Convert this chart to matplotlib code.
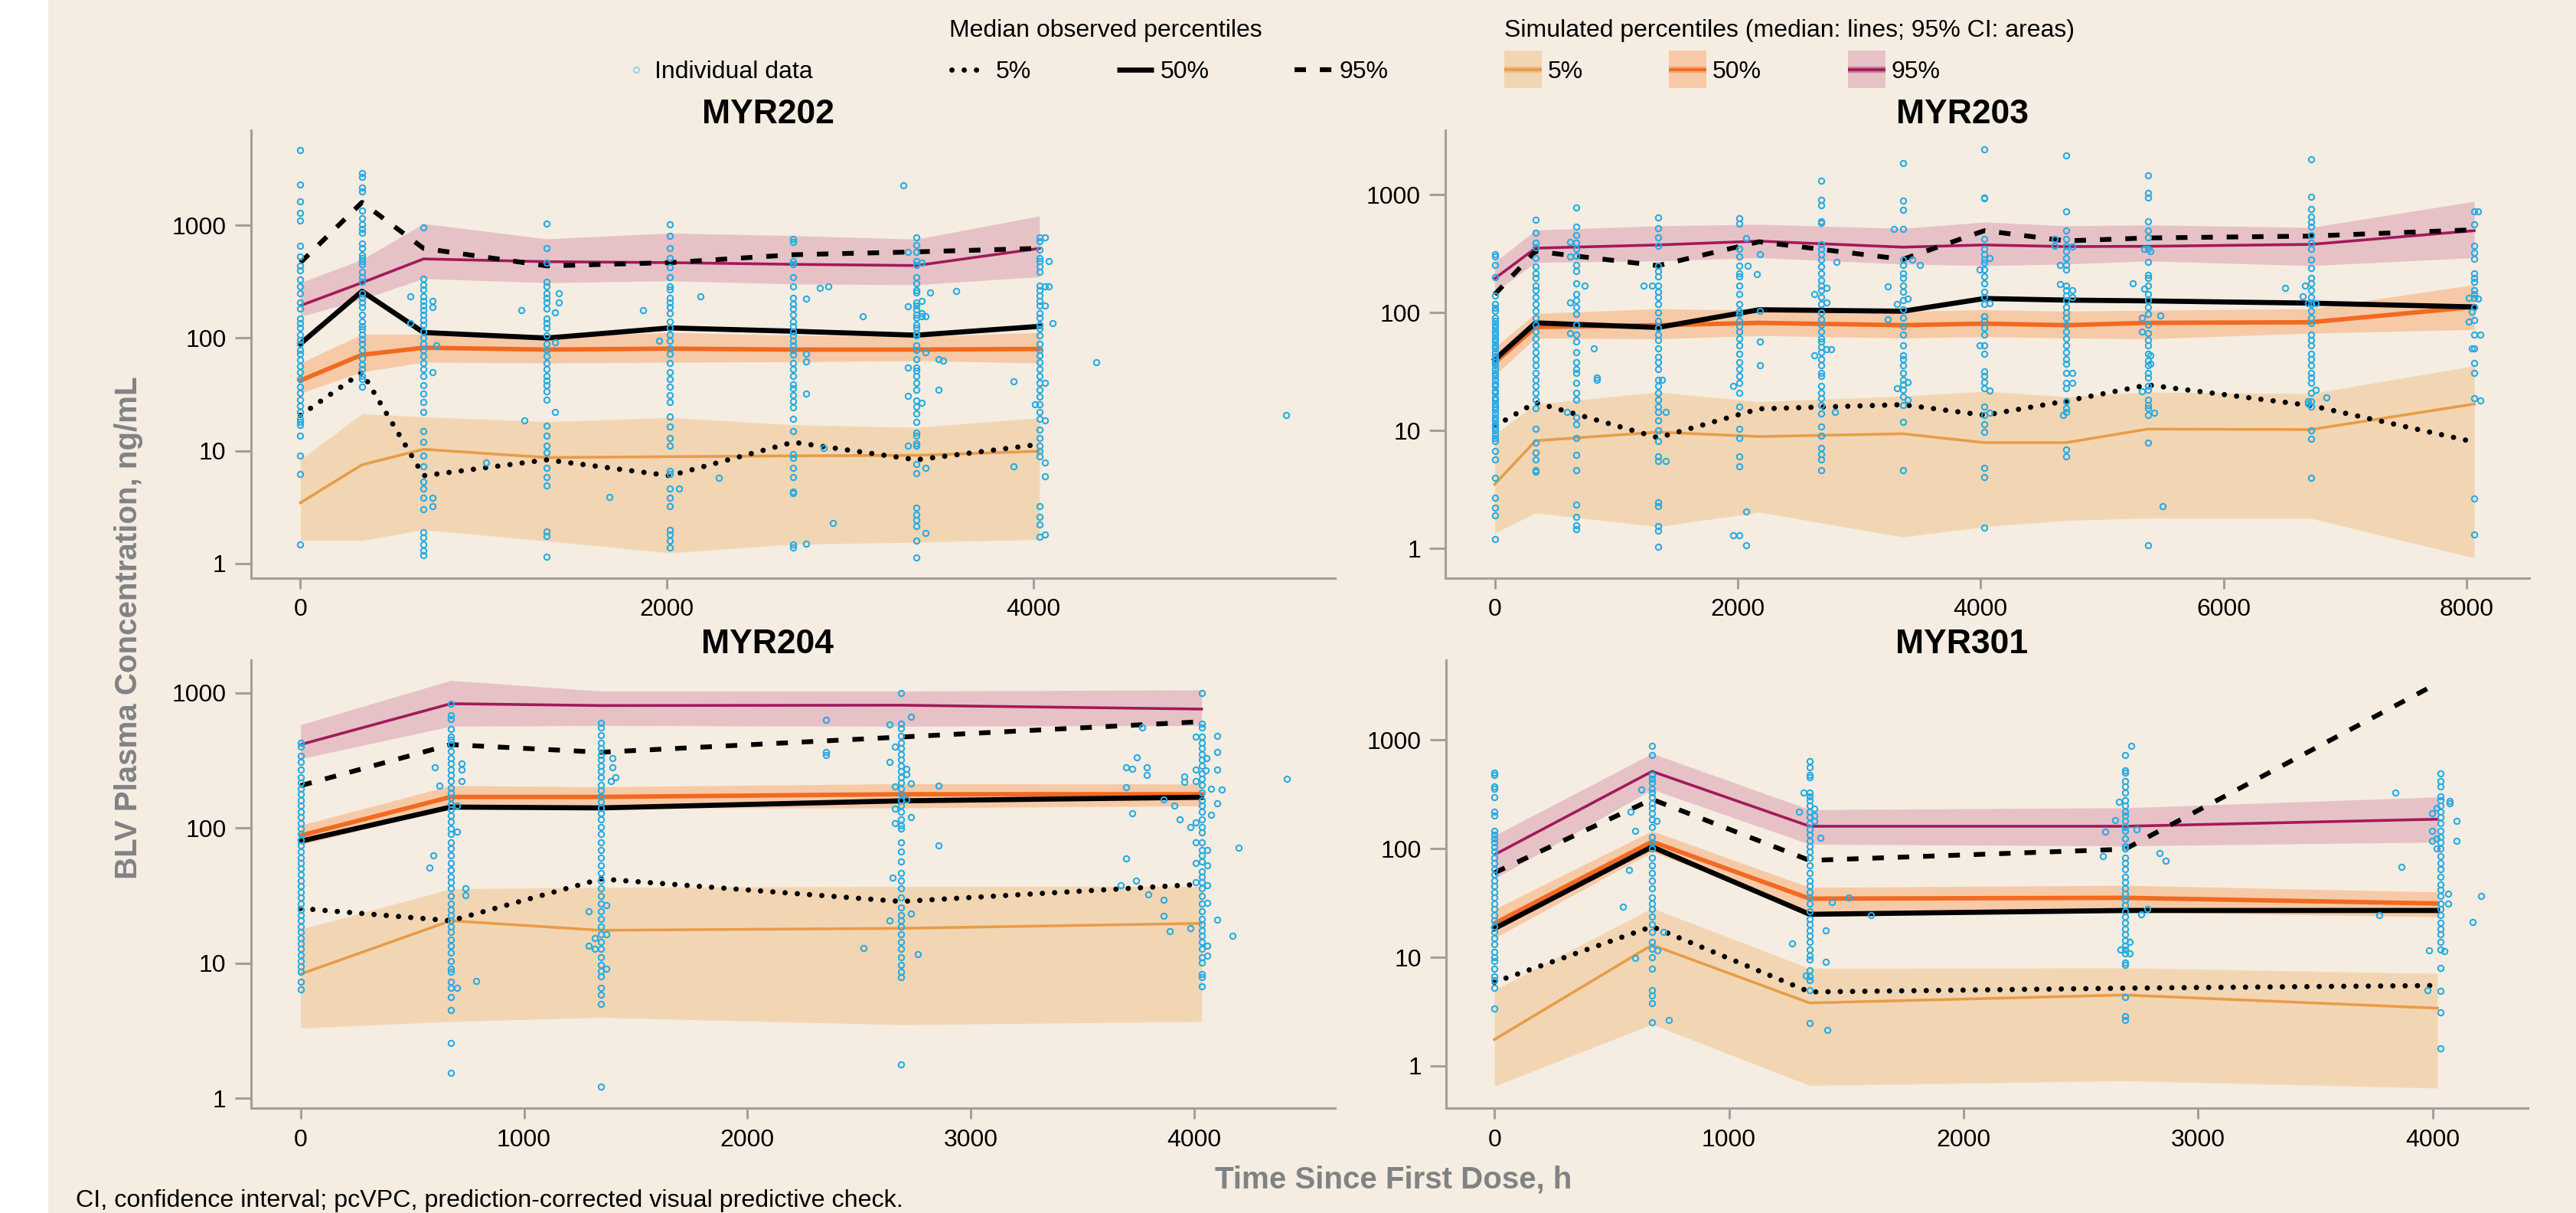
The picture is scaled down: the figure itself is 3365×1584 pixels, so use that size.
import numpy as np
import matplotlib
matplotlib.use("Agg")
import matplotlib.pyplot as plt
from matplotlib.ticker import FixedLocator, FixedFormatter, NullLocator
from matplotlib.patches import Rectangle

W, H = 3366, 1584
BG = "#F5EDE1"
SPINE = "#A0A0A0"
PT = "#29ABE2"
C05, C50, C95 = "#E89C48", "#F26A21", "#A3195B"
B05, B50, B95 = "#F2D6B4", "#F7CAA7", "#E6C2C6"
GREY = "#808285"

# ---------------- MYR202 ----------------
MYR202_nodes = [0, 336, 672, 1344, 2016, 2688, 3360, 4032]
MYR202_obs05 = [20.6, 49.6, 6.0, 8.3, 6.0, 11.9, 8.3, 11.4]
MYR202_obs50 = [89, 260, 112, 100, 123, 115, 106, 127]
MYR202_obs95 = [467, 1600, 625, 437, 467, 549, 582, 625]
MYR202_sim05 = [3.45, 7.5, 10.3, 8.7, 8.85, 9.0, 9.1, 9.9]
MYR202_sim05_lo = [1.6, 1.6, 1.99, 1.58, 1.24, 1.48, 1.54, 1.63]
MYR202_sim05_hi = [8.3, 21.3, 20, 18.1, 19.7, 17, 16.1, 19.6]
MYR202_sim50 = [42, 71, 82, 79, 80.5, 79, 79, 80]
MYR202_sim50_lo = [32.5, 50, 61, 60, 61, 61.5, 63, 60]
MYR202_sim50_hi = [60, 108, 108, 102.5, 112, 106, 103, 112]
MYR202_sim95 = [194, 310, 504, 476, 467, 451, 440, 625]
MYR202_sim95_lo = [155, 221, 337, 310, 322, 302, 297, 350]
MYR202_sim95_hi = [310, 498, 1037, 759, 854, 811, 754, 1213]
MYR202_times = [0, 336, 672, 1344, 2016, 2688, 3360, 4032]
MYR202_conc = [
    [4690, 2295, 1636, 1295, 1100, 658, 525, 437, 397, 330, 286, 248, 207, 182, 150, 136, 123, 108, 96, 89,
     78, 73, 64, 56, 50, 43.5, 37, 32.5, 28.5, 25, 22, 19.3, 18, 17, 13.5, 9.1, 6.2, 1.48],
    [2930, 2700, 2150, 1990, 1360, 1160, 1020, 922, 865, 689, 624, 548, 514, 482, 451, 384, 348, 315, 251, 228,
     207, 188, 160, 140, 127, 119, 108, 98, 89, 78, 66, 58, 53, 46, 43, 37],
    [953, 337, 296, 268, 236, 214, 194, 176, 160, 145, 131, 115, 101, 89, 78, 69, 60, 53, 46, 38, 32, 27, 22,
     14.9, 11.9, 9.1, 7.3, 5.3, 4.6, 3.8, 3.0, 1.9, 1.7, 1.48, 1.3, 1.18],
    [1040, 624, 466, 315, 286, 251, 228, 207, 182, 150, 136, 123, 105, 89, 78, 69, 60, 53, 46, 42, 38, 33.5,
     28.5, 16.6, 13.5, 11.1, 9.7, 7.0, 5.8, 4.9, 1.92, 1.74, 1.14],
    [1016, 809, 624, 514, 423, 348, 286, 268, 228, 207, 188, 165, 140, 123, 108, 95, 81, 73, 60, 50, 43, 37, 31,
     27, 20, 16.4, 13, 11.1, 6.6, 6.2, 4.6, 3.8, 3.2, 1.99, 1.8, 1.58, 1.39],
    [759, 711, 482, 451, 348, 286, 228, 200, 182, 160, 140, 127, 115, 105, 95, 86, 78, 71, 60, 53, 46, 39, 35.8,
     31, 27.6, 24.2, 19.3, 14.9, 9.4, 8.6, 7.0, 5.8, 4.3, 4.2, 1.48, 1.39],
    [780, 664, 578, 479, 446, 349, 304, 264, 255, 207, 193, 180, 162, 151, 131, 124, 110, 106, 86, 78, 65, 55,
     51, 46, 40, 35, 28, 24.5, 21.3, 17.9, 14.5, 13.5, 11.7, 11, 7.6, 6.3, 3.1, 2.7, 2.44, 2.15, 1.6, 1.13],
    [780, 728, 611, 513, 479, 431, 388, 293, 264, 238, 214, 193, 167, 151, 131, 122, 106, 89, 78, 70, 61, 53,
     46, 40, 35, 30, 26, 22, 19.2, 15.5, 13, 11, 9.9, 8.9, 3.2, 2.6, 2.2, 1.72],
]
MYR202_extra = [
    (598, 236), (598, 136), (719, 214), (719, 188), (719, 50), (719, 3.8), (719, 3.2), (741, 86),
    (1205, 176), (1412, 251), (1412, 207), (1389, 170), (1389, 92), (1389, 22), (1221, 18.7), (1684, 3.9), (1013, 7.8),
    (1868, 176), (2182, 236), (1955, 95), (2067, 4.6), (2284, 5.7),
    (2760, 222), (2760, 32), (2760, 62), (2760, 72), (2835, 279), (2882, 287), (3069, 155), (2856, 10.6),
    (2903, 2.27), (2760, 1.49), (3288, 2275), (3313, 578), (3313, 190), (3313, 55), (3313, 30.6), (3313, 11),
    (3388, 468), (3388, 214), (3388, 167), (3388, 157), (3388, 26.6), (3410, 157), (3410, 75), (3410, 7.0),
    (3410, 1.87), (3435, 255), (3481, 65), (3481, 35), (3505, 63), (3576, 260), (3889, 41), (3889, 7.3),
    (4060, 780), (4060, 287), (4060, 195), (4060, 40), (4060, 18.5), (4060, 7.8), (4060, 5.9), (4060, 1.8),
    (4082, 485), (4082, 287), (4105, 135), (4006, 26), (4343, 61), (5376, 20.6),
]

# ---------------- MYR203 ----------------
MYR203_nodes = [0, 336, 1344, 2177, 3360, 4032, 4704, 5376, 6720, 8064]
MYR203_obs05 = [10.9, 17.3, 8.7, 15.3, 16.6, 13.5, 17.8, 24.4, 16.3, 8.0]
MYR203_obs50 = [40, 82, 75, 106, 103, 132, 128, 126, 120.6, 112]
MYR203_obs95 = [143, 332, 251, 400, 284, 497, 407, 431, 447, 506]
MYR203_sim05 = [3.5, 8.2, 9.7, 8.9, 9.4, 7.9, 7.9, 10.3, 10.2, 16.8]
MYR203_sim05_lo = [1.35, 2.0, 1.53, 2.03, 1.25, 1.53, 1.73, 1.81, 1.8, 0.83]
MYR203_sim05_hi = [9.3, 16.8, 21.2, 17.6, 19.6, 21.5, 19.4, 21.2, 20.6, 35.4]
MYR203_sim50 = [37.7, 75.6, 78.4, 82, 78.4, 80.8, 78.4, 82, 83, 112]
MYR203_sim50_lo = [29.4, 61, 60, 64, 61, 62.7, 61, 60, 67, 72]
MYR203_sim50_hi = [51, 98.7, 108, 105, 103, 106, 103, 105, 108, 173]
MYR203_sim95 = [195, 353, 376, 405, 360, 376, 364, 366, 380, 497]
MYR203_sim95_lo = [150, 267, 275, 293, 259, 251, 259, 275, 251, 293]
MYR203_sim95_hi = [268, 503, 546, 563, 519, 588, 546, 556, 529, 881]
MYR203_times = [0, 336, 672, 1344, 2016, 2688, 3360, 4032, 4704, 5376, 6720, 8064]
MYR203_conc = [
    [313, 300, 256, 200, 140, 119, 110, 104, 91, 85, 79, 74, 69.5, 65, 60.8, 57, 53, 50, 46.5, 43, 40.6, 38,
     35.6, 33, 31, 29, 27, 25, 23.8, 22, 20.8, 19, 18.2, 17, 16, 15, 14, 13, 12.2, 11.4, 10.7, 10, 9.3, 8.7,
     8.2, 6.7, 5.7, 4.0, 2.7, 2.2, 1.9, 1.2],
    [618, 473, 395, 357, 292, 247, 216, 196, 171, 155, 136, 119, 104, 91, 79, 69.5, 60.8, 53, 46.5, 40.6, 35.6,
     31, 27, 23.8, 20.8, 18.2, 15.4, 10.3, 7.9, 6.5, 5.7, 4.6, 4.5],
    [781, 534, 458, 395, 346, 303, 256, 224, 177, 145, 127, 111, 97, 79, 65, 57, 46.5, 38, 33, 31, 25.5, 20.8,
     18.2, 13, 11.4, 8.7, 6.2, 4.6, 2.37, 1.85, 1.56, 1.45],
    [639, 523, 437, 370, 251, 224, 202, 171, 150, 136, 119, 100, 85, 74, 65, 58.8, 49.7, 42, 38, 33, 27, 23.8,
     20.8, 18.2, 16, 14.4, 12.2, 10, 8.2, 6.0, 5.5, 2.45, 2.3, 1.54, 1.41, 1.04],
    [631, 571, 346, 299, 251, 216, 202, 171, 145, 119, 104, 97, 85, 77, 69.5, 60.8, 53, 45, 38, 33, 29, 25.5,
     20.8, 16, 10.3, 8.7, 6.0, 5.0, 1.3],
    [1309, 912, 813, 598, 578, 382, 346, 313, 283, 247, 216, 189, 171, 155, 136, 119, 100, 88, 79, 69.5, 60.8,
     57, 51, 46.5, 40.6, 35.6, 31, 29, 23.8, 20.8, 18.8, 16.5, 14, 10.8, 9.0, 7.1, 6.3, 5.7, 4.6],
    [1864, 894, 751, 517, 283, 256, 216, 196, 171, 150, 127, 107, 91, 77, 65, 53, 43.4, 40.6, 35.6, 31, 27,
     24.6, 22.3, 19.5, 16.5, 11.8, 4.6],
    [2437, 942, 929, 423, 346, 313, 283, 264, 231, 202, 177, 150, 136, 119, 94, 85, 74, 65, 53, 45, 32, 29,
     25.8, 23, 16, 13.5, 11.4, 9.7, 4.85, 4.05, 1.5],
    [2173, 721, 499, 423, 370, 334, 292, 256, 234, 171, 155, 140, 127, 111, 100, 91, 79, 69.5, 60.8, 53, 46.5,
     40.6, 36.8, 31, 25.5, 23, 17.6, 15.4, 14.4, 6.9, 6.0],
    [1456, 1042, 942, 598, 499, 437, 346, 268, 209, 196, 171, 145, 127, 111, 97, 79, 67, 58.8, 53, 45, 39.4,
     35.6, 31, 28.2, 23.8, 22.3, 18.2, 16.5, 15.4, 13.6, 7.9, 1.06],
    [2004, 961, 761, 653, 590, 534, 458, 395, 346, 283, 239, 196, 177, 155, 136, 119, 104, 91, 82, 65, 58.8,
     53, 45, 40.6, 35.6, 31, 28.2, 25.5, 20.8, 17.6, 16, 10, 8.5, 4.0],
    [721, 560, 370, 323, 286, 216, 196, 183, 155, 145, 134, 111, 86, 65, 49.7, 37.5, 31, 18.8, 2.65, 1.32],
]
MYR203_extra = [
    (621, 400), (621, 300), (621, 122), (621, 67), (741, 171), (814, 49.7), (840, 28), (840, 27), (596, 14.4),
    (1223, 171), (1296, 171), (1411, 14.4), (1411, 5.5), (1375, 27),
    (2070, 428), (2070, 2.07), (2070, 1.06), (2182, 313), (2182, 103), (2182, 57), (2182, 36), (2158, 214),
    (2081, 251), (1962, 23.8), (1962, 1.3),
    (2813, 268), (2731, 163), (2731, 122), (2731, 49), (2634, 145), (2634, 43.4), (2768, 49), (2804, 14.4),
    (3287, 517), (3237, 166), (3237, 88), (3439, 283), (3499, 256), (3401, 131), (3401, 25.8), (3401, 18.2),
    (3314, 119), (3314, 23),
    (3990, 231), (3990, 53), (4077, 292), (4077, 120), (4077, 22), (4077, 14.1),
    (4610, 423), (4610, 370), (4652, 256), (4652, 174), (4755, 365), (4755, 155), (4755, 136), (4755, 31),
    (4755, 25.5), (4680, 13.6),
    (5253, 177), (5348, 346), (5348, 160), (5477, 95), (5398, 334), (5398, 43.4), (5398, 36.8), (5428, 14.1),
    (5329, 91), (5329, 69.5), (5329, 21.6), (5499, 2.27),
    (6508, 163), (6653, 138), (6697, 120), (6697, 17.8), (6697, 17), (6760, 120), (6760, 22.3), (6846, 19.1),
    (6672, 171),
    (8022, 134), (8022, 84), (8046, 102), (8046, 49.7), (8094, 721), (8094, 132), (8117, 65), (8117, 18),
]

# ---------------- MYR204 ----------------
MYR204_nodes = [0, 672, 1344, 2688, 4032]
MYR204_obs05 = [25.4, 20.6, 42, 28.6, 38.4]
MYR204_obs50 = [80, 143, 141, 159, 169]
MYR204_obs95 = [206, 415, 364, 472, 613]
MYR204_sim05 = [8.3, 20.6, 17.5, 18.1, 19.7]
MYR204_sim05_lo = [3.3, 3.7, 3.96, 3.5, 3.7]
MYR204_sim05_hi = [17.8, 35.5, 36.4, 37, 37]
MYR204_sim50 = [88, 170, 170, 178, 178]
MYR204_sim50_lo = [75, 141, 141, 141, 146]
MYR204_sim50_hi = [105, 206, 202, 213, 212]
MYR204_sim95 = [415, 833, 807, 812, 760]
MYR204_sim95_lo = [326, 567, 574, 567, 574]
MYR204_sim95_hi = [582, 1239, 1033, 1033, 1054]
MYR204_times = [0, 672, 1344, 2688, 4032]
MYR204_conc = [
    [428, 401, 341, 309, 272, 238, 216, 196, 178, 161, 146, 132, 120, 109, 99, 90, 81, 74, 67, 60.5, 55, 50, 45,
     41, 37, 33.7, 30.5, 27.7, 25, 22.8, 20.6, 18.7, 17, 15.4, 14, 12.7, 11.5, 10.4, 9.4, 8.6, 7.3, 6.4],
    [833, 685, 642, 538, 472, 451, 415, 371, 330, 299, 272, 246, 223, 198, 183, 166, 151, 137, 124, 112, 99, 90,
     78.5, 71, 62.5, 55, 49, 43.6, 39.6, 35.9, 31.5, 27.7, 25, 22.8, 20.6, 18.7, 17, 14.9, 13.5, 11.9, 10.4,
     9.1, 8.6, 7.3, 6.6, 5.6, 4.5, 2.56, 1.54],
    [601, 556, 488, 428, 388, 348, 319, 290, 263, 238, 209, 190, 172, 156, 141, 128, 116, 102, 90, 78.5, 69,
     60.5, 53, 46.6, 41, 35.9, 31.5, 27.7, 24.3, 21.3, 18.7, 16.4, 14.4, 12.7, 11.1, 9.7, 8.8, 8.0, 6.6, 5.8,
     5.0, 1.21],
    [1000, 593, 548, 482, 428, 388, 352, 319, 290, 263, 238, 216, 196, 178, 161, 146, 132, 116, 105, 99, 78.5,
     67, 56.6, 46.6, 41, 35.9, 30.5, 26, 22.8, 20.6, 18.7, 16.4, 14.4, 12.7, 11.1, 9.7, 8.6, 7.9, 1.79],
    [1000, 593, 556, 472, 428, 388, 352, 319, 290, 254, 231, 209, 183, 161, 146, 132, 116, 102, 92.5, 78.5, 69,
     62.5, 56.6, 48, 43.6, 39.6, 35.9, 31.5, 27.7, 24.3, 21.3, 19.3, 17.5, 15.9, 14.4, 12.7, 11.1, 10.1, 8.3,
     7.9, 6.7],
]
MYR204_extra = [
    (600, 281), (621, 206), (721, 299), (721, 272), (721, 223), (700, 146), (700, 94), (700, 6.6), (595, 62.5),
    (577, 51), (739, 35.6), (738, 32), (786, 7.4),
    (1395, 330), (1395, 281), (1408, 238), (1390, 223), (1290, 24.3), (1290, 13.4), (1369, 26.8), (1369, 16.4),
    (1369, 9.1), (1316, 15.4), (1316, 12.7),
    (2637, 585), (2637, 309), (2637, 20.6), (2733, 663), (2733, 213), (2733, 120), (2733, 23.3), (2711, 275),
    (2711, 252), (2711, 163), (2658, 401), (2658, 202), (2658, 139), (2658, 109), (2350, 634), (2350, 365),
    (2350, 348), (2855, 206), (2855, 74.5), (2519, 12.9), (2761, 11.6), (2651, 42.9),
    (4005, 472), (4005, 272), (4005, 223), (4005, 110), (4005, 78.5), (4005, 55), (4005, 39.6), (4054, 330),
    (4075, 196), (4075, 126), (4101, 482), (4101, 365), (4101, 272), (4101, 153), (4101, 20.9), (4049, 268),
    (4058, 69), (4058, 53), (4058, 37.8), (4058, 28.1), (4058, 13.5), (4058, 11.3), (4124, 193), (3983, 102),
    (3983, 18.1), (3861, 163), (3909, 146), (3935, 116), (3956, 241), (3956, 220), (3862, 29.5), (3862, 22.3),
    (3888, 17.2), (4171, 15.9), (4197, 71.3), (4413, 232), (3765, 556), (3743, 332), (3720, 275), (3720, 129),
    (3693, 282), (3693, 201), (3693, 59.3), (3786, 283), (3786, 248), (3740, 41), (3669, 37.8), (3792, 32.2),
]

# ---------------- MYR301 ----------------
MYR301_nodes = [0, 672, 1344, 2688, 4020]
MYR301_obs05 = [5.9, 19.2, 4.8, 5.2, 5.5]
MYR301_obs50 = [18.4, 104, 24.9, 27, 27]
MYR301_obs95 = [60, 285, 78, 99, 3335]
MYR301_sim05 = [1.75, 13, 3.8, 4.5, 3.4]
MYR301_sim05_lo = [0.65, 2.42, 0.66, 0.73, 0.625]
MYR301_sim05_hi = [5.0, 28.4, 7.9, 8.0, 7.1]
MYR301_sim50 = [20.5, 116, 34.7, 35.3, 31.3]
MYR301_sim50_lo = [15, 93.5, 26.6, 26.2, 23.6]
MYR301_sim50_hi = [27.7, 146, 44, 46, 40]
MYR301_sim95 = [88, 515, 161, 161, 187]
MYR301_sim95_lo = [53, 351, 110, 106, 115]
MYR301_sim95_hi = [132, 753, 229, 238, 299]
MYR301_times = [0, 672, 1344, 2688, 4032]
MYR301_conc = [
    [502, 475, 372, 357, 296, 219, 202, 146, 135, 124, 115, 104, 93.5, 82.8, 73.3, 64.9, 57.5, 50.9, 45, 39.9,
     35.3, 31.3, 27.7, 24.5, 21.7, 19.2, 17, 15, 13.3, 11.3, 10, 9.2, 7.9, 6.7, 6.2, 5.2, 3.4],
    [887, 730, 475, 437, 403, 357, 330, 299, 262, 238, 211, 187, 159, 129, 115, 100, 82.8, 70.5, 59.8, 50.9,
     43.2, 35.3, 31.3, 27.7, 23.5, 20, 17, 13.9, 12, 10, 7.9, 5.0, 4.46, 3.8, 2.52],
    [641, 558, 475, 456, 330, 303, 280, 248, 219, 194, 172, 152, 135, 119, 106, 93.5, 82.8, 70.5, 59.8, 50.9,
     45, 39.9, 35.3, 31.3, 26.6, 22.6, 20, 17.7, 15.7, 13.9, 11.8, 10.4, 9.6, 7.6, 6.7, 6.2, 5.0, 2.48],
    [730, 527, 502, 420, 372, 330, 280, 248, 219, 202, 179, 159, 146, 124, 106, 100, 82.8, 73.3, 64.9, 55.2,
     48.9, 43.2, 38.3, 33.9, 30, 26.6, 23.5, 20.9, 18.4, 16.3, 14.4, 12.8, 11.8, 10.9, 8.9, 8.5, 4.3, 2.85, 2.63],
    [495, 420, 372, 303, 280, 248, 219, 194, 172, 146, 129, 115, 101, 86, 73.3, 64.9, 55.2, 46.9, 41.5, 36.8,
     31.3, 27.7, 24.5, 20.9, 18.4, 16.3, 13.9, 11.8, 8.0, 4.9, 3.1, 1.45],
]
MYR301_extra = [
    (627, 351), (581, 219), (599, 146), (692, 179), (575, 63.9), (547, 29.3), (721, 17), (695, 11.6), (599, 9.8),
    (744, 2.63),
    (1298, 219), (1317, 330), (1362, 234), (1362, 202), (1362, 179), (1390, 127), (1439, 32), (1413, 17.7),
    (1413, 9.1), (1268, 13.5), (1327, 6.8), (1418, 2.15), (1511, 35.3), (1605, 24.5),
    (2715, 887), (2662, 269), (2645, 184), (2604, 144), (2593, 86), (2736, 152), (2783, 27.7), (2835, 91),
    (2860, 77.6), (2757, 24.9), (2707, 13.9), (2707, 10.9), (2668, 11.8),
    (3840, 330), (3997, 211), (3997, 146), (3997, 119), (4100, 179), (4100, 119), (4073, 275), (4073, 264),
    (4015, 238), (4015, 124), (4015, 100), (4065, 38.3), (4065, 31.3), (4170, 21.2), (4205, 36.8), (3866, 67.6),
    (3772, 24.5), (3985, 11.6), (3978, 5.0), (4048, 11.5),
]

plt.rcParams['font.family'] = ['Liberation Sans', 'DejaVu Sans']

DOT = (0, (0.01, 2.3))
DASH = (0, (2.4, 2.9))


def panel(ax, title, nodes, o05, o50, o95, s05, s05lo, s05hi, s50, s50lo, s50hi, s95, s95lo, s95hi,
          times, conc, extra, xlim, ylim, xticks):
    ax.set_facecolor('none')
    ax.fill_between(nodes, s05lo, s05hi, color=B05, lw=0, zorder=1)
    ax.fill_between(nodes, s50lo, s50hi, color=B50, lw=0, zorder=1.1)
    ax.fill_between(nodes, s95lo, s95hi, color=B95, lw=0, zorder=1.2)
    ax.plot(nodes, s05, color=C05, lw=2.6, zorder=2)
    ax.plot(nodes, s50, color=C50, lw=4.2, zorder=2)
    ax.plot(nodes, s95, color=C95, lw=2.6, zorder=2)
    ax.plot(nodes, o05, color='k', lw=5, ls=DOT, dash_capstyle='round', zorder=3)
    ax.plot(nodes, o50, color='k', lw=4.8, zorder=3)
    ax.plot(nodes, o95, color='k', lw=4.5, ls=DASH, zorder=3)
    tt = [t for t, col in zip(times, conc) for _ in col] + [e[0] for e in extra]
    cc = [c for col in conc for c in col] + [e[1] for e in extra]
    ax.plot(tt, cc, ls='none', marker='o', ms=5.3, mfc='none', mec=PT, mew=1.5, zorder=4)

    ax.set_yscale('log')
    ax.set_xlim(*xlim)
    ax.set_ylim(*ylim)
    ax.yaxis.set_major_locator(FixedLocator([1, 10, 100, 1000]))
    ax.yaxis.set_major_formatter(FixedFormatter(['1', '10', '100', '1000']))
    ax.yaxis.set_minor_locator(NullLocator())
    ax.set_xticks(xticks)
    ax.set_xticklabels([str(x) for x in xticks])
    for s in ['top', 'right']:
        ax.spines[s].set_visible(False)
    for s in ['left', 'bottom']:
        ax.spines[s].set_color(SPINE)
        ax.spines[s].set_linewidth(2.2)
    ax.tick_params(axis='y', length=15, width=2.2, color=SPINE, labelsize=23, pad=8)
    ax.tick_params(axis='x', length=10, width=2.2, color=SPINE, labelsize=23, pad=9)
    ax.set_title(title, fontsize=32, fontweight='bold', x=0.477, pad=1)


fig = plt.figure(figsize=(W / 100, H / 100), dpi=100)
fig.patch.set_facecolor('white')
fig.add_artist(Rectangle((63 / W, 0), 1 - 63 / W, 1, transform=fig.transFigure,
                         facecolor=BG, edgecolor='none', zorder=-10))

axw, axh = 0.4207, 0.3693
ax1 = fig.add_axes([0.0973, 0.5234, axw, axh])
ax2 = fig.add_axes([0.5609, 0.5234, axw, axh])
ax3 = fig.add_axes([0.0973, 0.0862, axw, axh])
ax4 = fig.add_axes([0.5612, 0.0862, 0.4198, axh])

panel(ax1, "MYR202", MYR202_nodes, MYR202_obs05, MYR202_obs50, MYR202_obs95,
      MYR202_sim05, MYR202_sim05_lo, MYR202_sim05_hi, MYR202_sim50, MYR202_sim50_lo, MYR202_sim50_hi,
      MYR202_sim95, MYR202_sim95_lo, MYR202_sim95_hi, MYR202_times, MYR202_conc, MYR202_extra,
      (-271, 5643), (0.74, 7000), [0, 2000, 4000])
panel(ax2, "MYR203", MYR203_nodes, MYR203_obs05, MYR203_obs50, MYR203_obs95,
      MYR203_sim05, MYR203_sim05_lo, MYR203_sim05_hi, MYR203_sim50, MYR203_sim50_lo, MYR203_sim50_hi,
      MYR203_sim95, MYR203_sim95_lo, MYR203_sim95_hi, MYR203_times, MYR203_conc, MYR203_extra,
      (-407, 8518), (0.56, 3540), [0, 2000, 4000, 6000, 8000])
panel(ax3, "MYR204", MYR204_nodes, MYR204_obs05, MYR204_obs50, MYR204_obs95,
      MYR204_sim05, MYR204_sim05_lo, MYR204_sim05_hi, MYR204_sim50, MYR204_sim50_lo, MYR204_sim50_hi,
      MYR204_sim95, MYR204_sim95_lo, MYR204_sim95_hi, MYR204_times, MYR204_conc, MYR204_extra,
      (-223, 4628), (0.84, 1740), [0, 1000, 2000, 3000, 4000])
panel(ax4, "MYR301", MYR301_nodes, MYR301_obs05, MYR301_obs50, MYR301_obs95,
      MYR301_sim05, MYR301_sim05_lo, MYR301_sim05_hi, MYR301_sim50, MYR301_sim50_lo, MYR301_sim50_hi,
      MYR301_sim95, MYR301_sim95_lo, MYR301_sim95_hi, MYR301_times, MYR301_conc, MYR301_extra,
      (-206, 4405), (0.406, 5410), [0, 1000, 2000, 3000, 4000])

# legend drawn in a pixel-coordinate overlay
lax = fig.add_axes([0, 0, 1, 1], zorder=-1)
lax.set_xlim(0, W)
lax.set_ylim(H, 0)
lax.axis('off')
fs = 23
lax.text(1240, 48, "Median observed percentiles", fontsize=fs, va='baseline')
lax.text(1965, 48, "Simulated percentiles (median: lines; 95% CI: areas)", fontsize=fs, va='baseline')
ly, tb = 91, 102
lax.plot([831], [ly], ls='none', marker='o', ms=5.3, mfc='none', mec='#9DD3EC', mew=1.5)
lax.text(855, tb, "Individual data", fontsize=fs, va='baseline')
lax.plot([1243, 1283], [ly, ly], color='k', lw=5, ls=DOT, dash_capstyle='round')
lax.text(1301, tb, "5%", fontsize=fs, va='baseline')
lax.plot([1459, 1507], [ly, ly], color='k', lw=4.8, solid_capstyle='butt')
lax.text(1516, tb, "50%", fontsize=fs, va='baseline')
lax.plot([1691, 1741], [ly, ly], color='k', lw=4.5, ls=DASH)
lax.text(1750, tb, "95%", fontsize=fs, va='baseline')
for x0, band, col, lbl in [(1965, B05, C05, "5%"), (2180, B50, C50, "50%"), (2414, B95, C95, "95%")]:
    lax.add_patch(Rectangle((x0, 66), 49, 49, facecolor=band, edgecolor='none'))
    lax.plot([x0, x0 + 49], [ly, ly], color=col, lw=6, alpha=0.4, solid_capstyle='butt')
    lax.plot([x0, x0 + 49], [ly, ly], color=col, lw=2.6, solid_capstyle='butt')
    lax.text(x0 + 57, tb, lbl, fontsize=fs, va='baseline')

fig.text(168 / W, 1 - 820 / H, "BLV Plasma Concentration, ng/mL", rotation=90, fontsize=29,
         fontweight='bold', color=GREY, ha='center', va='center')
fig.text(1820 / W, 1 - 1552 / H, "Time Since First Dose, h", fontsize=29, fontweight='bold',
         color=GREY, ha='center', va='baseline')
fig.text(99.5 / W, 1 - 1576 / H,
         "CI, confidence interval; pcVPC, prediction-corrected visual predictive check.",
         fontsize=23.2, va='baseline')

fig.savefig('out.png', dpi=100, facecolor=fig.get_facecolor())
